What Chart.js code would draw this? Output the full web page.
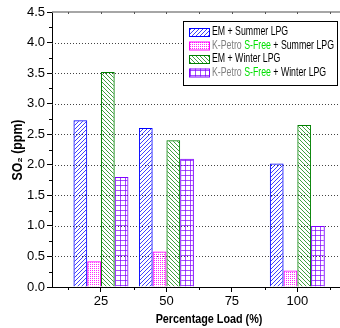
<!DOCTYPE html>
<html>
<head>
<meta charset="utf-8">
<script src="https://cdn.jsdelivr.net/npm/chart.js@4.4.0/dist/chart.umd.min.js"></script>
<style>
  html, body { margin: 0; padding: 0; background: #fff; }
  #wrap { width: 340px; height: 328px; }
</style>
</head>
<body>
<div id="wrap"><canvas id="so2-chart" width="340" height="328"></canvas></div>
<script>
// percentage load categories and SO2 readings (ppm)
const loads = [25, 50, 100];
const emSummer = [2.73, 2.60, 2.02];
const kpSummer = [0.42, 0.58, 0.27];
const emWinter = [3.52, 2.40, 2.65];
const kpWinter = [1.80, 2.10, 1.00];
const xTicks = [25, 50, 75, 100];
const yTicks = [0, 0.5, 1, 1.5, 2, 2.5, 3, 3.5, 4, 4.5];

const FONT = "'Liberation Sans', Arial, sans-serif";

function makePattern(color, kind) {
  const n = kind === "grid" ? 5 : 4;
  const c = document.createElement("canvas");
  c.width = n; c.height = n;
  const g = c.getContext("2d");
  g.fillStyle = color;
  for (let i = 0; i < n; i++) {
    if (kind === "fwd") g.fillRect(i, n - 1 - i, 1, 1);
    if (kind === "back") g.fillRect(i, i, 1, 1);
    if (kind === "grid") { g.fillRect(i, 0, 1, 1); g.fillRect(0, i, 1, 1); }
  }
  if (kind === "dots") { g.fillRect(0, 0, 1, 1); g.fillRect(2, 2, 1, 1); g.fillRect(2, 0, 1, 1); g.fillRect(0, 2, 1, 1); }
  return g.createPattern(c, "repeat");
}

// draw text squeezed horizontally (the original uses a narrow face)
function narrowText(ctx, text, x, y, sx, align) {
  ctx.save();
  ctx.translate(x, y);
  ctx.scale(sx, 1);
  ctx.textAlign = align || "left";
  ctx.fillText(text, 0, 0);
  ctx.restore();
  return ctx.measureText(text).width * sx;
}

const ctx = document.getElementById("so2-chart").getContext("2d");

const series = [
  { label: "EM + Summer LPG", values: emSummer, border: "#0000ff", fill: makePattern("rgba(0,0,255,0.75)", "fwd"),
    parts: [["EM + Summer LPG", "#000"]] },
  { label: "K-Petro S-Free + Summer LPG", values: kpSummer, border: "#ff00ff", fill: makePattern("rgba(255,0,255,0.85)", "dots"),
    parts: [["K-Petro ", "#808080"], ["S-Free", "#00e000"], [" + Summer LPG", "#000"]] },
  { label: "EM + Winter LPG", values: emWinter, border: "#008000", fill: makePattern("rgba(0,128,0,0.75)", "back"),
    parts: [["EM + Winter LPG", "#000"]] },
  { label: "K-Petro S-Free + Winter LPG", values: kpWinter, border: "#8000ff", fill: makePattern("rgba(128,0,255,0.7)", "grid"),
    parts: [["K-Petro ", "#808080"], ["S-Free", "#00e000"], [" + Winter LPG", "#000"]] }
];

// dotted grid, minor ticks, top frame line, titles, legend
const framePlugin = {
  id: "frame",
  beforeDatasetsDraw(chart) {
    const { ctx, chartArea: a, scales: { y } } = chart;
    ctx.save();
    ctx.strokeStyle = "#444";
    ctx.lineWidth = 1;
    ctx.setLineDash([1, 2]);
    yTicks.forEach(v => {
      if (v === 0 || v === 4.5) return;
      const py = Math.round(y.getPixelForValue(v)) + 0.5;
      ctx.beginPath(); ctx.moveTo(a.left, py); ctx.lineTo(a.right, py); ctx.stroke();
    });
    ctx.restore();
  },
  afterDraw(chart) {
    const { ctx, chartArea: a, scales: { x, y } } = chart;
    ctx.save();
    ctx.strokeStyle = "#000";
    ctx.lineWidth = 1;
    // minor y ticks
    for (let v = 0.25; v < 4.5; v += 0.5) {
      const py = Math.round(y.getPixelForValue(v)) + 0.5;
      ctx.beginPath(); ctx.moveTo(a.left - 3, py); ctx.lineTo(a.left, py); ctx.stroke();
    }
    // minor x ticks
    for (let v = 12.5; v < 120; v += 25) {
      const px = Math.round(x.getPixelForValue(v)) + 0.5;
      ctx.beginPath(); ctx.moveTo(px, a.bottom); ctx.lineTo(px, a.bottom + 3); ctx.stroke();
    }
    // top frame
    ctx.strokeStyle = "#888";
    ctx.lineWidth = 1.5;
    ctx.beginPath(); ctx.moveTo(a.left, a.top); ctx.lineTo(a.right, a.top); ctx.stroke();
    ctx.lineWidth = 1;
    ctx.strokeStyle = "#555";
    for (let v = 12.5; v < 120; v += 12.5) {
      const px = Math.round(x.getPixelForValue(v)) + 0.5;
      ctx.beginPath(); ctx.moveTo(px, a.top); ctx.lineTo(px, a.top + 2); ctx.stroke();
    }
    // axis titles
    ctx.fillStyle = "#000";
    ctx.font = "bold 13px " + FONT;
    ctx.textBaseline = "middle";
    narrowText(ctx, "Percentage Load (%)", 209, 319, 0.83, "center");
    ctx.font = "bold 14px " + FONT;
    ctx.translate(18, 150);
    ctx.rotate(-Math.PI / 2);
    narrowText(ctx, "SO\u2082 (ppm)", 0, 0, 0.88, "center");
    ctx.restore();

    // legend
    ctx.save();
    const lx = 183, ly = 21, lw = 154, lh = 64;
    ctx.fillStyle = "#fff";
    ctx.fillRect(lx, ly, lw, lh);
    ctx.strokeStyle = "#000";
    ctx.lineWidth = 1;
    ctx.strokeRect(lx + 0.5, ly + 0.5, lw, lh);
    ctx.font = "12px " + FONT;
    ctx.textBaseline = "middle";
    series.forEach((s, i) => {
      const cy = 32 + i * 13.5;
      ctx.fillStyle = "#fff";
      ctx.fillRect(189, cy - 4, 21, 8);
      ctx.fillStyle = s.fill;
      ctx.fillRect(189, cy - 4, 21, 8);
      ctx.strokeStyle = s.border;
      ctx.strokeRect(189.5, cy - 3.5, 20, 8);
      let tx = 212;
      s.parts.forEach(([t, col]) => {
        ctx.fillStyle = col;
        tx += narrowText(ctx, t, tx, cy, 0.73, "left");
      });
    });
    ctx.restore();
  }
};

new Chart(ctx, {
  type: "bar",
  data: {
    datasets: series.map(s => ({
      label: s.label,
      data: loads.map((l, i) => ({ x: l, y: s.values[i] })),
      backgroundColor: s.fill,
      borderColor: s.border,
      borderWidth: 1,
      borderSkipped: "bottom",
      categoryPercentage: 0.84,
      barPercentage: 1
    }))
  },
  plugins: [framePlugin],
  options: {
    responsive: false,
    animation: false,
    layout: { padding: { top: 12, right: 0, left: 0, bottom: 0 } },
    plugins: {
      legend: { display: false },
      tooltip: { enabled: false }
    },
    scales: {
      x: {
        type: "linear",
        offset: false,
        min: 6.3,
        max: 116.3,
        afterBuildTicks: scale => { scale.ticks = xTicks.map(v => ({ value: v })); },
        afterFit: scale => { scale.height = 41; },
        grid: { offset: false, drawOnChartArea: false, drawTicks: true, tickLength: 5, color: "#000" },
        border: { color: "#000", width: 1 },
        ticks: { color: "#000", font: { size: 13, family: FONT }, padding: 2, maxRotation: 0 }
      },
      y: {
        min: 0,
        max: 4.5,
        afterBuildTicks: scale => { scale.ticks = yTicks.map(v => ({ value: v })); },
        afterFit: scale => { scale.width = 52; },
        grid: { drawOnChartArea: false, drawTicks: true, tickLength: 5, color: "#000" },
        border: { color: "#000", width: 1 },
        ticks: { color: "#000", font: { size: 13, family: FONT }, padding: 2,
          callback: v => v.toFixed(1) }
      }
    }
  }
});
</script>
</body>
</html>
